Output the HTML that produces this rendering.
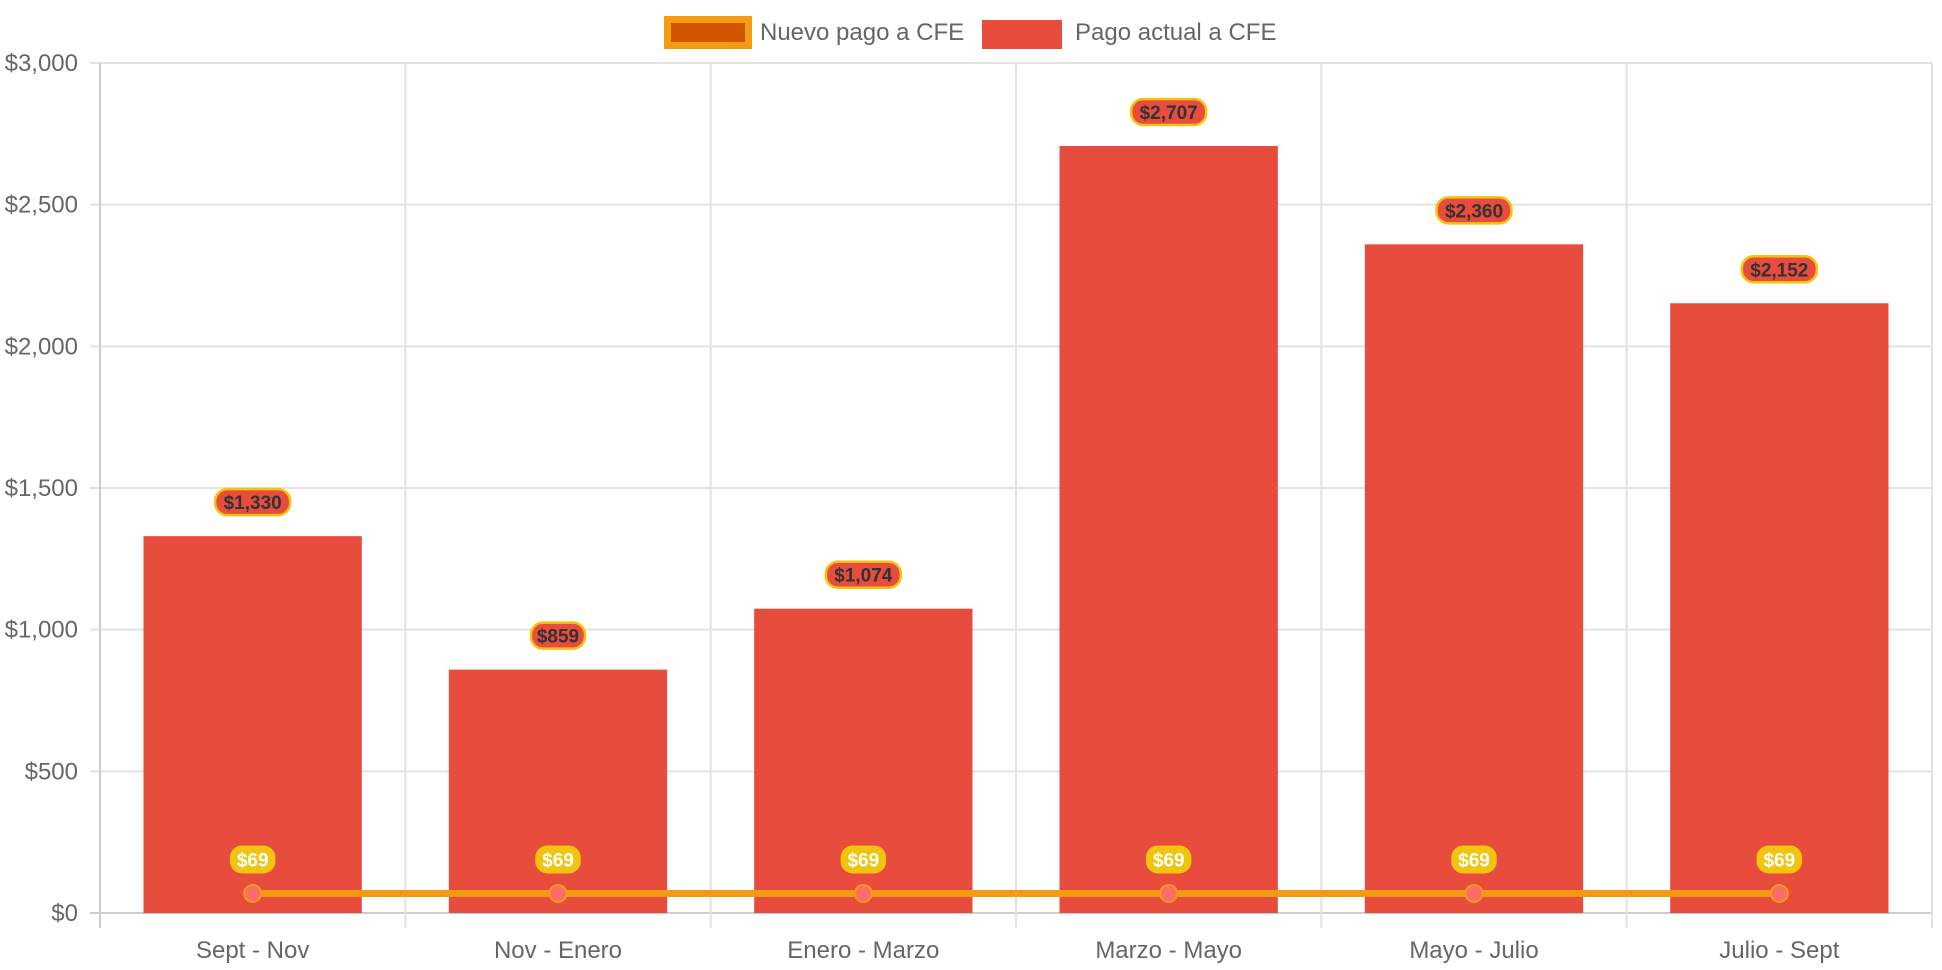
<!DOCTYPE html>
<html><head><meta charset="utf-8">
<style>
html,body{margin:0;padding:0;background:#fff;}
svg{display:block;font-family:"Liberation Sans",Arial,sans-serif;}
</style></head>
<body>
<svg id="chart" width="1942" height="970" viewBox="0 0 1942 970">
  <g id="legend">
    <g>
      <rect x="667.5" y="19.5" width="81" height="26" fill="#d35400" stroke="#f39c12" stroke-width="7"/>
      <text x="760" y="40" font-size="24" fill="#666">Nuevo pago a CFE</text>
    </g>
    <g>
      <rect x="982" y="20" width="80" height="29" fill="#e74c3c"/>
      <text x="1075" y="40" font-size="24" fill="#666">Pago actual a CFE</text>
    </g>
  </g>
  <g id="grid"></g>
  <g id="yticks"></g>
  <g id="xticks"></g>
  <g id="bars"></g>
  <g id="line"></g>
  <g id="labels"></g>
</svg>
<script>
const categories = ["Sept - Nov","Nov - Enero","Enero - Marzo","Marzo - Mayo","Mayo - Julio","Julio - Sept"];
const actualValues = [1330, 859, 1074, 2707, 2360, 2152];
const nuevoValues = [69, 69, 69, 69, 69, 69];
const yTicks = [0, 500, 1000, 1500, 2000, 2500, 3000];

const NS = "http://www.w3.org/2000/svg";
const L = 100, R = 1932, T = 63, B = 913, YMAX = 3000;
const band = (R - L) / categories.length;
const y = v => B - v / YMAX * (B - T);
const xc = i => L + band * (i + 0.5);
const fmt = v => "$" + v.toLocaleString("en-US");
function mk(tag, attrs, parent, txt){
  const e = document.createElementNS(NS, tag);
  for (const k in attrs) e.setAttribute(k, attrs[k]);
  if (txt !== undefined) e.textContent = txt;
  parent.appendChild(e); return e;
}
const grid = document.getElementById("grid");
const yt = document.getElementById("yticks");
const xt = document.getElementById("xticks");
yTicks.forEach(v => {
  const ln = mk("line", {x1: L-10, x2: R, y1: y(v), y2: y(v), stroke: v===0 ? "#ccc" : "#e2e2e2", "stroke-width": 2}, grid);
  
  
  const t = mk("text", {x: L-22, y: y(v)+8, "font-size": 24, fill: "#666", "text-anchor": "end"}, yt, fmt(v));
  
  
});
for (let i = 0; i <= categories.length; i++) {
  const x = L + band * i;
  const ln = mk("line", {x1: x, x2: x, y1: T, y2: B+15, stroke: i===0 ? "#ccc" : "#e2e2e2", "stroke-width": 2}, grid);
  
  
}
categories.forEach((c, i) => {
  const t = mk("text", {x: xc(i), y: 958, "font-size": 24, fill: "#666", "text-anchor": "middle"}, xt, c);
  
  
});
const bars = document.getElementById("bars");
const bw = band * 0.715;
actualValues.forEach((v, i) => {
  const r = mk("rect", {x: xc(i)-bw/2, y: y(v), width: bw, height: B - y(v), fill: "#e74c3c"}, bars);
  
  
});
const line = document.getElementById("line");
const pts = nuevoValues.map((v, i) => xc(i) + "," + y(v)).join(" ");
const pl = mk("polyline", {points: pts, fill: "none", stroke: "#f39c12", "stroke-width": 7}, line);


nuevoValues.forEach((v, i) => {
  const c = mk("circle", {cx: xc(i), cy: y(v), r: 8.5, fill: "#ff6b6b", stroke: "#f39c12", "stroke-width": 2}, line);
  
  
});
const labels = document.getElementById("labels");
actualValues.forEach((v, i) => {
  const s = fmt(v), w = s.length * 10.5 + 12, cy = y(v) - 34;
  const g = mk("g", {}, labels);
  
  
  mk("rect", {x: xc(i)-w/2, y: cy-13, width: w, height: 26, rx: 12, fill: "#e74c3c", stroke: "#f1c40f", "stroke-width": 2.5}, g);
  mk("text", {x: xc(i), y: cy+7, "font-size": 19, "font-weight": "bold", fill: "#333", "text-anchor": "middle"}, g, s);
});
nuevoValues.forEach((v, i) => {
  const s = fmt(v), w = s.length * 10.5 + 14, cy = y(v) - 34;
  const g = mk("g", {}, labels);
  
  
  mk("rect", {x: xc(i)-w/2, y: cy-14, width: w, height: 28, rx: 12, fill: "#f1c40f"}, g);
  mk("text", {x: xc(i), y: cy+7, "font-size": 19, "font-weight": "bold", fill: "#fff", "text-anchor": "middle"}, g, s);
});
</script>
</body></html>
